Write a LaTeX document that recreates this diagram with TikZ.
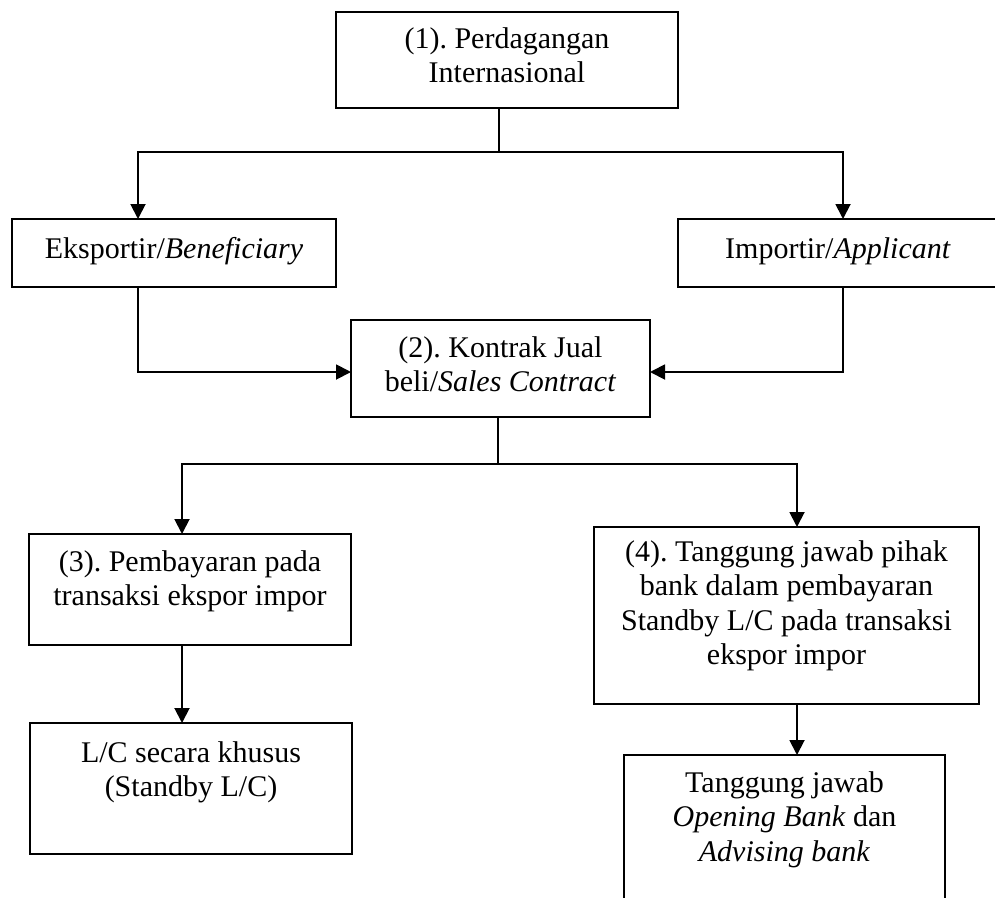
\documentclass[tikz,border=0pt]{standalone}
\usepackage{fontspec}
\setmainfont{Liberation Serif}
\usetikzlibrary{arrows.meta,calc}
\frenchspacing
\newcommand\mybox[4]{\parbox[c][#2][t]{#1}{\centering\rule{0pt}{#3}#4\par}}
\begin{document}
\begin{tikzpicture}[x=1pt,y=-1pt,
  box/.style={draw, line width=1.9pt, inner sep=0pt, outer sep=0pt, anchor=north west,
              font=\fontsize{30}{34.5}\selectfont},
  link/.style={line width=1.9pt},
  arr/.style={link, -{Triangle[length=15pt,width=15pt]}}]
\useasboundingbox (0,0) rectangle (995,897);
\clip (0,0) rectangle (995,897);
% boxes
\node[box] (b1) at (336,12)  {\mybox{342pt}{96pt}{36pt}{(1). Perdagangan\\Internasional}};
\node[box] (bE) at (12,219)  {\mybox{324pt}{68pt}{39pt}{Eksportir/\textit{Beneficiary}}};
\node[box] (bI) at (678,219) {\mybox{320pt}{68pt}{39pt}{Importir/\textit{Applicant}}};
\node[box] (b2) at (351,320) {\mybox{299pt}{97pt}{37pt}{(2). Kontrak Jual\\beli/\textit{Sales Contract}}};
\node[box] (b3) at (29,534)  {\mybox{322pt}{111pt}{37pt}{(3). Pembayaran pada\\transaksi ekspor impor}};
\node[box] (b4) at (594,527) {\mybox{385pt}{177pt}{34pt}{(4). Tanggung jawab pihak\\bank dalam pembayaran\\Standby L/C pada transaksi\\ekspor impor}};
\node[box] (bL) at (30,723)  {\mybox{322pt}{131pt}{39pt}{L/C secara khusus\\(Standby L/C)}};
\node[box] (b5) at (624,755) {\mybox{321pt}{180pt}{37pt}{Tanggung jawab\\\textit{Opening Bank} dan\\\textit{Advising bank}}};
% routing coordinates
\coordinate (cE) at (138,0);
\coordinate (cI) at (843,0);
\coordinate (j1) at (499,152);
\coordinate (k)  at (0,372);
\coordinate (j2) at (498,464);
\coordinate (c3) at (182,0);
\coordinate (c4) at (797,0);
% connectors
\draw[link] (j1 |- b1.south) -- (j1);
\draw[arr] (j1) -| (cE |- bE.north);
\draw[arr] (j1) -| (cI |- bI.north);
\draw[arr] (cE |- bE.south) |- (b2.west |- k);
\draw[arr] (cI |- bI.south) |- (b2.east |- k);
\draw[link] (j2 |- b2.south) -- (j2);
\draw[arr] (j2) -| (c3 |- b3.north);
\draw[arr] (j2) -| (c4 |- b4.north);
\draw[arr] (c3 |- b3.south) -- (c3 |- bL.north);
\draw[arr] (c4 |- b4.south) -- (c4 |- b5.north);
\end{tikzpicture}
\end{document}
